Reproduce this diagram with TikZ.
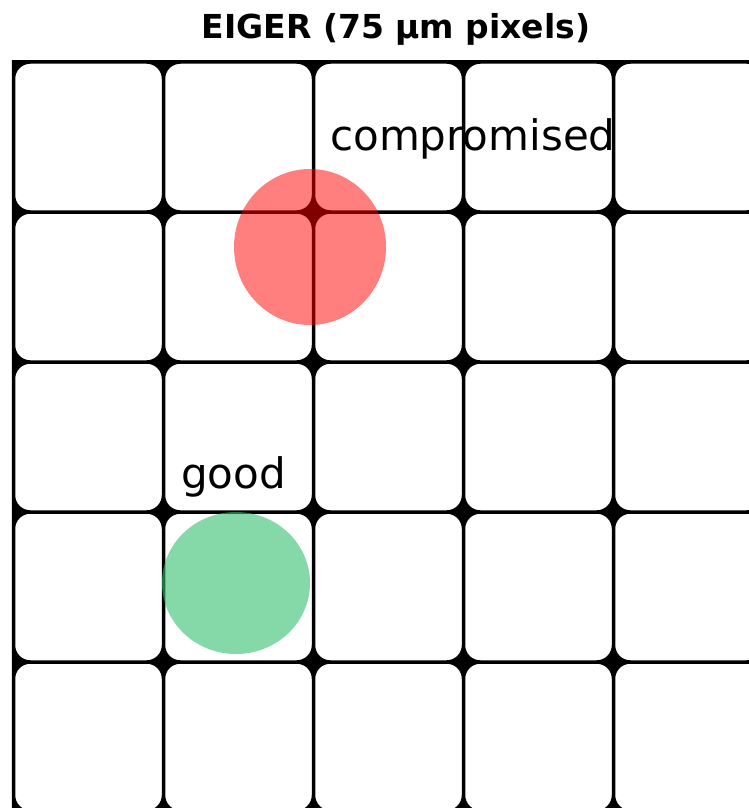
\documentclass[tikz,border=0pt]{standalone}
\usepackage{fontspec}
\setmainfont{DejaVu Sans}
\definecolor{goodgreen}{RGB}{52,192,113}
\begin{document}
\begin{tikzpicture}[x=1pt,y=-1pt,
  lbl/.style={font=\fontsize{42}{48}\selectfont, anchor=base west, inner sep=0pt}]
\useasboundingbox (0,0) rectangle (749,808);
\fill[white] (0,0) rectangle (749,808);
\node[font=\bfseries\fontsize{33}{38}\selectfont, anchor=base, inner sep=0pt] (title) at (396,38) {EIGER (75 µm pixels)};
\node[lbl] (comp) at (330,150) {compromised};
\node[lbl] (good) at (181,488) {good};
\begin{scope}
\clip (11.75,60.25) rectangle (749,808);
\fill[black, even odd rule, rounded corners=15pt] (-20,30) rectangle (780,840)
  foreach \i in {0,...,5} { foreach \j in {0,...,5} {
    (15.25+150*\i, 63.75+150*\j) rectangle (161.75+150*\i, 210.25+150*\j) } };
\end{scope}
\fill[red, opacity=0.5] (310,247) ellipse [x radius=76, y radius=78];
\fill[goodgreen, opacity=0.6] (236,583) ellipse [x radius=74, y radius=71];
\end{tikzpicture}
\end{document}
